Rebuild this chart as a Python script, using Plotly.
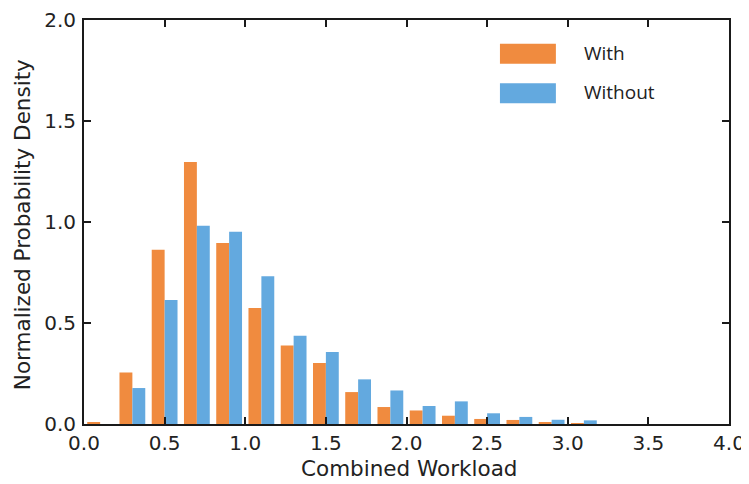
import plotly.graph_objects as go

bin_centers = [0.1, 0.3, 0.5, 0.7, 0.9, 1.1, 1.3, 1.5, 1.7, 1.9, 2.1, 2.3, 2.5, 2.7, 2.9, 3.1, 3.3, 3.5, 3.7, 3.9]
with_vals = [0.006, 0.255, 0.863, 1.297, 0.896, 0.574, 0.389, 0.302, 0.158, 0.084,
             0.067, 0.041, 0.025, 0.020, 0.006, 0.003, 0.0, 0.0, 0.0, 0.0]
without_vals = [0.0, 0.178, 0.614, 0.982, 0.952, 0.731, 0.437, 0.356, 0.221, 0.166,
                0.089, 0.112, 0.053, 0.035, 0.021, 0.018, 0.0, 0.0, 0.0, 0.0]
series_names = ["With", "Without"]
colors = ["#F08B3F", "#63A9DF"]
x_ticks = [0.0, 0.5, 1.0, 1.5, 2.0, 2.5, 3.0, 3.5, 4.0]
y_ticks = [0.0, 0.5, 1.0, 1.5, 2.0]

OFF = 8  # page body margin
W, H = 749 - OFF, 484 - OFF
# plot box in page pixels: x 83.6..729.3, y 20.3..424.3
ML = 83.6 - OFF
MR = W - (729.3 - OFF)
MT = 20.3 - OFF
MB = H - (424.3 - OFF)

fig = go.Figure()
for name, vals, c in zip(series_names, [with_vals, without_vals], colors):
    fig.add_trace(go.Bar(x=bin_centers, y=vals, name=name, marker=dict(color=c, line=dict(width=0)),
                         showlegend=False))

axis_common = dict(showgrid=False, zeroline=False, showline=True, linecolor="#1a1a1a", linewidth=2,
                   mirror="allticks", ticks="inside", ticklen=7, tickwidth=1.5, tickcolor="#1a1a1a",
                   automargin=False,
                   tickfont=dict(family="DejaVu Sans", size=20, color="#222222"))

fig.update_layout(
    width=W, height=H,
    margin=dict(l=ML, r=MR, t=MT, b=MB),
    paper_bgcolor="white", plot_bgcolor="white",
    barmode="group", bargap=0.2, bargroupgap=0,
    xaxis=dict(range=[0, 4], tickvals=x_ticks, ticktext=[f"{v:.1f}" for v in x_ticks],
               ticklabelstandoff=0, **axis_common),
    yaxis=dict(range=[0, 2], tickvals=y_ticks, ticktext=[f"{v:.1f}" for v in y_ticks],
               ticklabelstandoff=2, **axis_common),
)

pw = W - ML - MR
ph = H - MT - MB
def px_x(p):  # page px -> paper
    return (p - OFF - ML) / pw
def px_y(p):
    return (H - MB - (p - OFF)) / ph

title_font = dict(family="DejaVu Sans", size=21.5, color="#222222")
fig.add_annotation(text="Combined Workload", xref="paper", yref="paper", x=px_x(409), y=px_y(469),
                   xanchor="center", yanchor="middle", showarrow=False, font=title_font)
fig.add_annotation(text="Normalized Probability Density", xref="paper", yref="paper", x=px_x(22), y=px_y(225),
                   xanchor="center", yanchor="middle", showarrow=False, textangle=-90, font=title_font)

# legend drawn as patches + labels
leg_y = [54, 93.5]
for name, c, yc in zip(series_names, colors, leg_y):
    fig.add_shape(type="rect", xref="paper", yref="paper", x0=px_x(500), x1=px_x(556),
                  y0=px_y(yc + 10), y1=px_y(yc - 10), fillcolor=c, line=dict(width=0))
    fig.add_annotation(text=name, xref="paper", yref="paper", x=px_x(582), y=px_y(yc - 1), xanchor="left",
                       yanchor="middle", showarrow=False, font=dict(family="Open Sans", size=19, color="#222222"))

fig.write_html("out.html")
